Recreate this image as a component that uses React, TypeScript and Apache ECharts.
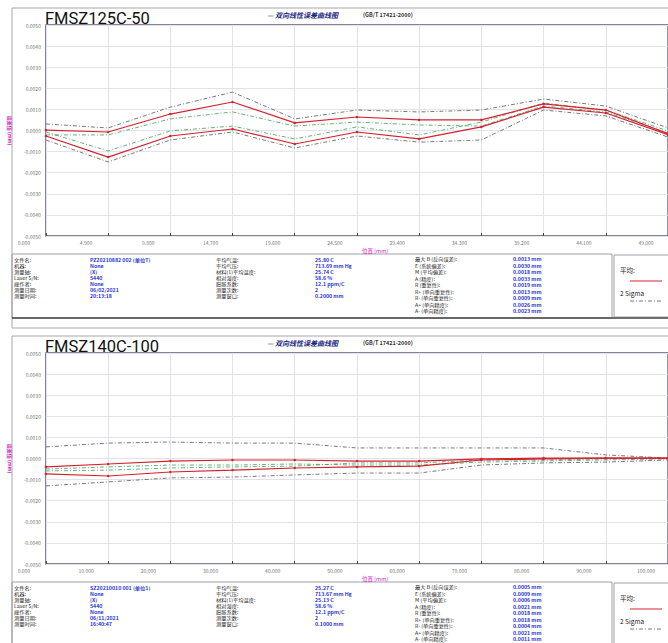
import React, { useEffect, useRef } from "react";
import * as echarts from "echarts";

// ---------- data: panel 1 (FMSZ125C-50) ----------
const positions1 = [0, 4.9, 9.8, 14.7, 19.6, 24.5, 29.4, 34.3, 39.2, 44.1, 49.0];
const fwdMean1 = [0.00002, -0.00007, 0.00078, 0.00135, 0.00036, 0.00064, 0.0005, 0.0005, 0.00126, 0.00097, -0.00015];
const revMean1 = [-0.00026, -0.00126, -0.00026, 0.00007, -0.00064, -0.00007, -0.0004, 0.00017, 0.00111, 0.00083, -0.0002];
const grayUpper1 = [0.00031, 0.00012, 0.00111, 0.00182, 0.00055, 0.00097, 0.00088, 0.00097, 0.00149, 0.00116, 0.00012];
const greenUpper1 = [-0.00021, -0.00021, 0.00055, 0.00088, 0.00021, 0.0004, 0.00026, 0.00021, 0.00116, 0.00088, -0.00012];
const greenLower1 = [-0.00007, -0.00097, -0.00002, 0.00021, -0.0004, 0.00017, -0.00021, 0.0004, 0.0013, 0.00097, -0.00002];
const grayLower1 = [-0.00045, -0.00149, -0.00045, -0.00007, -0.00083, -0.00026, -0.00055, -0.00045, 0.00097, 0.00069, -0.00031];

// ---------- data: panel 2 (FMSZ140C-100) ----------
const positions2 = [0, 10, 20, 30, 40, 50, 60, 70, 80, 90, 100];
const fwdMean2 = [-0.0004, -0.00026, -0.00012, -0.00007, -0.00007, -0.00012, -0.00012, -0.00002, 0.00002, 0.00002, 0.00002];
const revMean2 = [-0.00073, -0.00083, -0.00064, -0.00055, -0.00045, -0.0004, -0.00036, -0.00007, -0.00002, 0.00002, 0.00002];
const grayUpper2 = [0.00055, 0.00073, 0.00078, 0.00073, 0.00073, 0.0005, 0.0005, 0.0005, 0.0005, 0.00017, 0.00002];
const greenUpper2 = [-0.0005, -0.0004, -0.00031, -0.00031, -0.00026, -0.00031, -0.00031, -0.00017, -0.00012, -0.00007, -0.00002];
const greenLower2 = [-0.00059, -0.00055, -0.00045, -0.0004, -0.00036, -0.00021, -0.00021, -0.00007, -0.00007, -0.00002, 0.00002];
const grayLower2 = [-0.0013, -0.00111, -0.00092, -0.00088, -0.00078, -0.00069, -0.00069, -0.00031, -0.00021, -0.00017, -0.00007];

// ---------- texts ----------
const titles = ["FMSZ125C-50", "FMSZ140C-100"];
const chartTitle = "— 双向线性误差曲线图";
const chartStd = "(GB/T 17421-2000)";
const yName = "误差值 (mm)";
const xName = "位置 (mm)";

const infoLabels = ["文件名:", "机器:", "测量轴:", "Laser S/N:", "操作者:", "测量日期:", "测量时间:"];
const infoValues1 = ["PZ20210882 002 (单位T)", "None", "(X)", "5440", "None", "06/02/2021", "20:13:18"];
const infoValues2 = ["SZ20210010 001 (单位1)", "None", "(X)", "5440", "None", "06/11/2021", "16:40:47"];

const envLabels = ["平均气温:", "平均气压:", "材料(1)平均温度:", "相对湿度:", "膨胀系数:", "测量次数:", "测量窗口:"];
const envValues1 = ["25.80 C", "713.69 mm Hg", "25.74 C", "58.6 %", "12.1 ppm/C", "2", "0.2000 mm"];
const envValues2 = ["25.27 C", "713.67 mm Hg", "25.13 C", "58.6 %", "12.1 ppm/C", "2", "0.1000 mm"];

const resLabels = ["最大 B (反向误差):", "E (系统偏差):", "M (平均偏差):", "A (精度):", "R (重复性):", "R+ (单向重复性):", "R- (单向重复性):", "A+ (单向精度):", "A- (单向精度):"];
const resValues1 = ["0.0013 mm", "0.0030 mm", "0.0018 mm", "0.0033 mm", "0.0019 mm", "0.0013 mm", "0.0009 mm", "0.0026 mm", "0.0023 mm"];
const resValues2 = ["0.0005 mm", "0.0009 mm", "0.0006 mm", "0.0021 mm", "0.0018 mm", "0.0018 mm", "0.0004 mm", "0.0021 mm", "0.0011 mm"];

const legendMean = "平均:";
const legendSigma = "2 Sigma";

const FONT = "'Noto Sans CJK SC', 'Noto Sans', sans-serif";
const RED = "#d3222e";
const GRAY = "#555560";
const GREEN = "#3f9e5c";
const BLUE = "#1f35d6";
const DASHDOT = [4, 2, 1, 2];

const pair = (xs: number[], ys: number[]) => xs.map((x, i) => [x, ys[i]]);

export default function App() {
  const ref = useRef<HTMLDivElement>(null);

  useEffect(() => {
    if (!ref.current) return;
    const chart = echarts.init(ref.current, null, { renderer: "svg" });

    const panelTops = [8, 336];
    const gridTops = [25, 353];
    const gridH = 211;
    const maxes = [49, 100];
    const intervals = [4.9, 10];
    const posList = [positions1, positions2];
    const lines = [
      [grayUpper1, greenUpper1, fwdMean1, revMean1, greenLower1, grayLower1],
      [grayUpper2, greenUpper2, fwdMean2, revMean2, greenLower2, grayLower2],
    ];
    const infoVals = [infoValues1, infoValues2];
    const envVals = [envValues1, envValues2];
    const resVals = [resValues1, resValues2];

    const graphic: any[] = [];
    const txt = (x: number, y: number, text: string, o: any = {}) =>
      graphic.push({
        type: "text",
        x,
        y,
        scaleX: o.scaleX || 1,
        z: 20,
        silent: true,
        style: {
          text,
          fill: o.fill || "#222",
          fontSize: o.fontSize || 5,
          lineHeight: o.lineHeight,
          fontFamily: o.fontFamily || FONT,
          fontWeight: o.fontWeight || "normal",
          fontStyle: o.fontStyle || "normal",
          align: o.align || "left",
          verticalAlign: "middle",
        },
      });
    const line = (x1: number, y1: number, x2: number, y2: number, stroke: string, lw: number, dash?: number[]) =>
      graphic.push({
        type: "line",
        z: 15,
        silent: true,
        shape: { x1, y1, x2, y2 },
        style: { stroke, lineWidth: lw, lineDash: dash || null },
      });
    const rect = (x: number, y: number, w: number, h: number, stroke: string, lw: number) =>
      graphic.push({
        type: "rect",
        z: 5,
        silent: true,
        shape: { x, y, width: w, height: h },
        style: { fill: "none", stroke, lineWidth: lw },
      });

    const small = { fontSize: 4.7, lineHeight: 5, scaleX: 1.12 };
    const smallV = { ...small, fill: BLUE, fontWeight: "bold" };
    [0, 1].forEach((p) => {
      const pt = panelTops[p];
      const gb = gridTops[p] + gridH;
      rect(12, pt, 670, 320, "#a8a8b0", 1);
      txt(45, pt + 10.5, titles[p], { fontSize: 16.5, fill: "#111", fontFamily: "Roboto, sans-serif" });
      txt(267, pt + 7, chartTitle, { fontSize: 7, fill: "#1c2a80", fontWeight: "bold", fontStyle: "italic" });
      txt(363, pt + 7, chartStd, { fontSize: 5.5, fill: "#333", fontWeight: "bold" });
      txt(362, gb + 15, xName, { fontSize: 5.5, fill: "#d01ec0" });
      const it = gb + 18;
      rect(12, it, 600, 64, "#8a8a95", 0.8);
      line(12, it + 64, 668, it + 64, "#444", 1.5);
      rect(614, it + 1, 60, 62, "#8a8a95", 0.8);
      infoLabels.forEach((l, i) => {
        txt(14, it + 6 + i * 6, l, small);
        txt(90, it + 6 + i * 6, infoVals[p][i], smallV);
      });
      envLabels.forEach((l, i) => {
        txt(216, it + 6 + i * 6, l, small);
        txt(315, it + 6 + i * 6, envVals[p][i], smallV);
      });
      resLabels.forEach((l, i) => {
        txt(415, it + 5 + i * 6.5, l, small);
        txt(513, it + 5 + i * 6.5, resVals[p][i], smallV);
      });
      txt(620, it + 16, legendMean, { fontSize: 6.5 });
      line(630, it + 27, 662, it + 27, RED, 1);
      txt(620, it + 39, legendSigma, { fontSize: 6.5 });
      line(630, it + 47, 662, it + 47, GRAY, 0.8, DASHDOT);
    });

    const grid = [0, 1].map((p) => ({
      left: 45,
      top: gridTops[p],
      width: 625,
      height: gridH,
      show: true,
      borderColor: "#5b5b7a",
      borderWidth: 1.3,
      backgroundColor: "transparent",
    }));

    const xAxis = [0, 1].map((p) => ({
      type: "value",
      gridIndex: p,
      position: "bottom",
      min: 0,
      max: maxes[p],
      interval: intervals[p],
      axisLine: { show: false, onZero: false },
      axisTick: { show: true, inside: true, length: 3, lineStyle: { color: "#444" } },
      splitLine: { show: true, lineStyle: { color: "#e2e2e8", width: 1 } },
      axisLabel: {
        fontSize: 5,
        color: "#777",
        fontFamily: FONT,
        margin: 4,
        padding: [0, 44, 0, 0],
        formatter: (v: number) => v.toFixed(3),
        showMaxLabel: true,
        showMinLabel: true,
      },
    }));

    const yAxis = [0, 1].map((p) => ({
      type: "value",
      gridIndex: p,
      position: "left",
      min: -0.005,
      max: 0.005,
      interval: 0.001,
      axisLine: { show: false, onZero: false },
      axisTick: { show: false },
      splitLine: { show: true, lineStyle: { color: "#e2e2e8", width: 1 } },
      axisLabel: {
        fontSize: 5,
        color: "#777",
        fontFamily: FONT,
        margin: 5,
        formatter: (v: number) => v.toFixed(4),
      },
      name: yName,
      nameLocation: "middle",
      nameGap: 26,
      nameRotate: -90,
      nameTextStyle: { fontSize: 5, color: "#d01ec0", fontFamily: FONT, fontWeight: "bold" },
    }));

    const styles = [
      { color: GRAY, type: DASHDOT, width: 0.8, sym: false },
      { color: GREEN, type: DASHDOT, width: 0.8, sym: false },
      { color: RED, type: "solid", width: 1.2, sym: true },
      { color: RED, type: "solid", width: 1.2, sym: true },
      { color: GREEN, type: DASHDOT, width: 0.8, sym: false },
      { color: GRAY, type: DASHDOT, width: 0.8, sym: false },
    ];
    const names = ["正向 +2σ", "正向 -2σ", "正向平均", "反向平均", "反向 +2σ", "反向 -2σ"];

    const series: any[] = [];
    [0, 1].forEach((p) => {
      lines[p].forEach((vals, k) => {
        const s = styles[k];
        series.push({
          type: "line",
          name: names[k] + (p + 1),
          xAxisIndex: p,
          yAxisIndex: p,
          data: pair(posList[p], vals),
          symbol: s.sym ? "circle" : "none",
          symbolSize: 2.5,
          showSymbol: s.sym,
          itemStyle: { color: s.color },
          lineStyle: { color: s.color, type: s.type, width: s.width },
          z: s.sym ? 4 : 3,
        });
      });
    });

    chart.setOption({
      animation: false,
      backgroundColor: "#ffffff",
      grid,
      xAxis,
      yAxis,
      series,
      graphic,
    });

    return () => chart.dispose();
  }, []);

  return (
    <div
      ref={ref}
      style={{ position: "absolute", left: 0, top: 0, width: 668, height: 643, background: "#fff" }}
    />
  );
}
